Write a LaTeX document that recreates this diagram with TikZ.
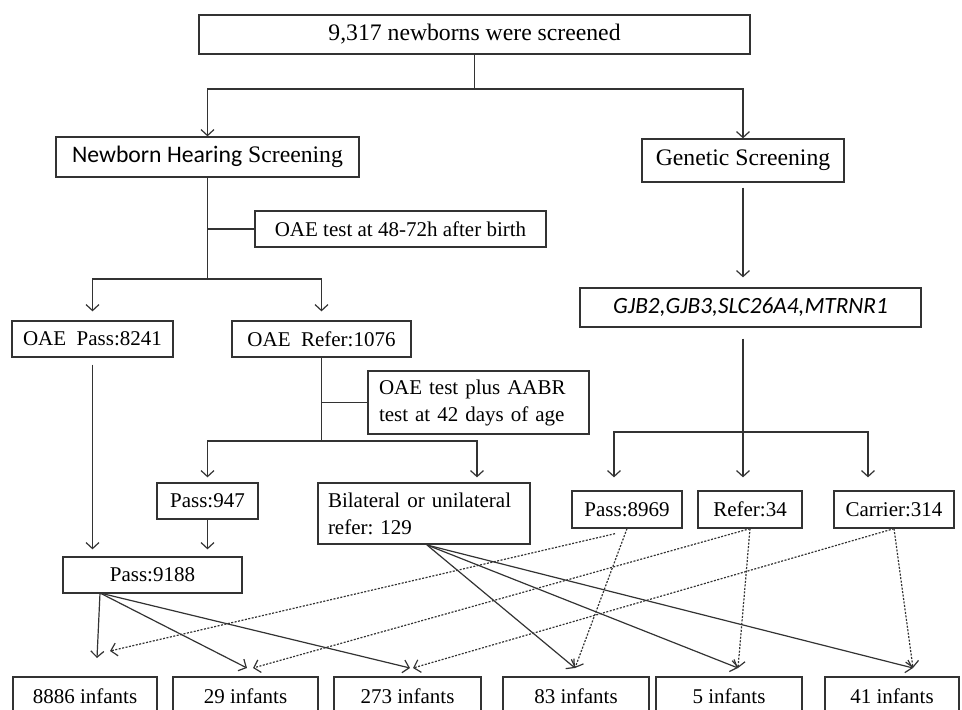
\documentclass[tikz,border=0pt]{standalone}
\usepackage{fontspec}
\setmainfont{Liberation Serif}
\newfontfamily\calfont{Carlito}
\usetikzlibrary{arrows.meta}
\frenchspacing

\begin{document}
\begin{tikzpicture}[x=1pt,y=-1pt,
  BoxStyle/.style={draw=black!80, line width=1.3pt, inner sep=0pt,
    font=\fontsize{21}{27}\selectfont},
  WideStyle/.style={BoxStyle, font=\fontsize{23.7}{27}\selectfont},
  EdgeStyle/.style={draw=black!80, line width=1.2pt},
  DashStyle/.style={EdgeStyle, dash pattern=on 2pt off 1.5pt},
  >={Straight Barb[length=6pt,width=13pt]}]
\useasboundingbox (0,0) rectangle (962,710);
\clip (0,0) rectangle (962,710);
% boxes
\node[WideStyle, minimum width=551pt, minimum height=39pt] (top) at (474.5,34.5) {9,317 newborns were screened};
\node[WideStyle, minimum width=303pt, minimum height=40pt] (hear) at (207.5,157) {{\calfont Newborn Hearing} Screening};
\node[WideStyle, minimum width=202pt, minimum height=43pt] (gen) at (743,160.5) {Genetic Screening};
\node[BoxStyle, minimum width=291pt, minimum height=36pt] (oaet) at (400.5,229) {OAE test at 48-72h after birth};
\node[BoxStyle, minimum width=161pt, minimum height=36pt] (oaep) at (92.5,339) {OAE\ \ Pass:8241};
\node[BoxStyle, minimum width=179pt, minimum height=36pt] (oaer) at (321.5,339) {OAE\ \ Refer:1076};
\node[BoxStyle, minimum width=221pt, minimum height=63pt, text width=199pt, align=left] (aabr) at (478.5,402.5) {OAE test plus AABR\\test at 42 days of age};
\node[BoxStyle, minimum width=101pt, minimum height=36pt] (pa) at (207.5,501) {Pass:947};
\node[BoxStyle, minimum width=212pt, minimum height=61pt, text width=192pt, align=left] (bi) at (424,513.5) {Bilateral or unilateral\\refer: 129};
\node[BoxStyle, minimum width=179pt, minimum height=36pt] (pall) at (152.5,575) {Pass:9188};
\node[BoxStyle, minimum width=341pt, minimum height=39pt, font=\calfont\itshape\fontsize{23.3}{26}\selectfont] (gene) at (750.5,307.5) {GJB2,GJB3,SLC26A4,MTRNR1};
\node[BoxStyle, minimum width=110pt, minimum height=37pt] (gp) at (627,509.5) {Pass:8969};
\node[BoxStyle, minimum width=104pt, minimum height=37pt] (gr) at (750,509.5) {Refer:34};
\node[BoxStyle, minimum width=120pt, minimum height=37pt] (gc) at (894,509.5) {Carrier:314};
\foreach \x/\w/\n/\t in {85/144/i1/8886, 245.5/145/i2/29, 407.5/147/i3/273,
    576/146/i4/83, 729/146/i5/5, 892/134/i6/41}
  \node[BoxStyle, minimum width=\w pt, minimum height=38pt] (\n) at (\x,696) {\t{} infants};
% hearing branch
\coordinate (j1) at (474.5,89);
\draw[EdgeStyle] (top.south) -- (j1);
\draw[EdgeStyle,->] (j1) -| (hear.north);
\draw[EdgeStyle,->] (j1) -| (gen.north);
\coordinate (j2) at (207.5,279);
\draw[EdgeStyle] (hear.south) -- (j2);
\draw[EdgeStyle] (hear.south |- oaet.west) -- (oaet.west);
\draw[EdgeStyle,->,shorten >=9pt] (j2) -| (oaep.north);
\draw[EdgeStyle,->,shorten >=9pt] (j2) -| (oaer.north);
\coordinate (j3) at (321.5,441);
\draw[EdgeStyle] (oaer.south) -- (j3);
\draw[EdgeStyle] (oaer.south |- aabr.west) -- (aabr.west);
\draw[EdgeStyle,->,shorten >=5pt] (j3) -| (pa.north);
\draw[EdgeStyle,->,shorten >=5pt] (j3) -| ([xshift=53pt]bi.north);
\draw[EdgeStyle,->,shorten <=7pt,shorten >=7pt] (oaep.south) -- (oaep.south |- pall.north);
\draw[EdgeStyle,->,shorten >=7pt] (pa.south) -- (pa.south |- pall.north);
% genetic branch
\draw[EdgeStyle,->,shorten <=5pt,shorten >=10pt] (gen.south) -- (gen.south |- gene.north);
\coordinate (j4) at (743,432);
\draw[EdgeStyle,->,shorten <=11pt,shorten >=13pt] (gen.south |- gene.south) -- (gen.south |- gr.north);
\draw[EdgeStyle,->,shorten >=13pt] (j4) -| ([xshift=-13pt]gp.north);
\draw[EdgeStyle,->,shorten >=13pt] (j4) -| ([xshift=-26pt]gc.north);
% outcomes
\coordinate (pout) at (100,593);
\coordinate (bout) at (427,545);
\coordinate (a1) at (97,658);  \coordinate (d1) at (110,651);
\coordinate (a2) at (247,668); \coordinate (d2) at (253,668);
\coordinate (a3) at (410,668); \coordinate (d3) at (413,668);
\coordinate (a4) at (575,668);
\coordinate (a5) at (738,668);
\coordinate (a6) at (913,668);
\foreach \t in {a1,a2,a3} \draw[EdgeStyle,->] (pout) -- (\t);
\foreach \t in {a4,a5,a6} \draw[EdgeStyle,->] (bout) -- (\t);
\draw[DashStyle,->] ([xshift=-12pt,yshift=-5pt]gp.south) -- (d1);
\draw[DashStyle,->] (gp.south) -- (a4);
\draw[DashStyle,->] (gr.south) -- (d2);
\draw[DashStyle,->] (gr.south) -- (a5);
\draw[DashStyle,->] (gc.south) -- (d3);
\draw[DashStyle,->] (gc.south) -- (a6);
\end{tikzpicture}
\end{document}
